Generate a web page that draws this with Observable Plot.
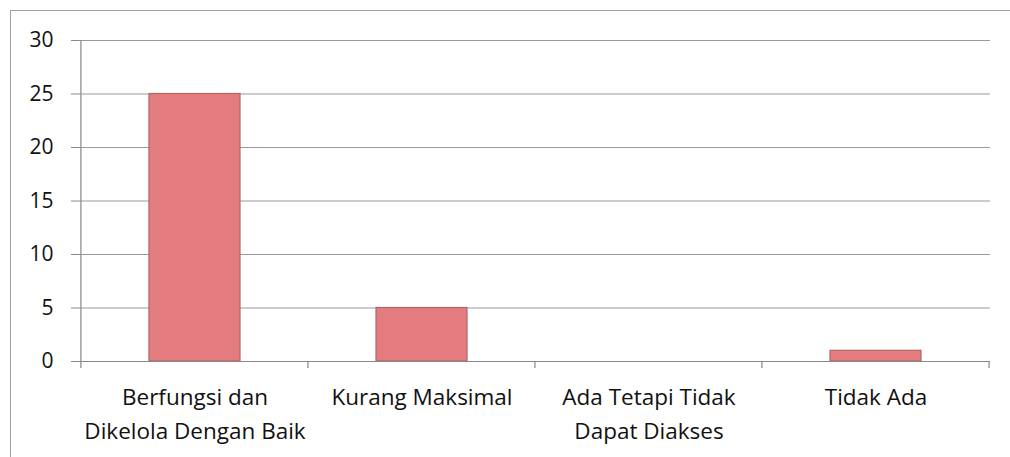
<!DOCTYPE html>
<html><head><meta charset="utf-8">
<script src="https://cdn.jsdelivr.net/npm/d3@7"></script>
<script src="https://cdn.jsdelivr.net/npm/@observablehq/plot@0.6"></script>
<style>
body{margin:0;background:#fff;}
#wrap{position:relative;width:1010px;height:457px;overflow:hidden;}
#frame{position:absolute;left:10px;top:10px;width:1010px;height:460px;border:1.5px solid #a0a0a0;}
#chart{position:absolute;left:0;top:0;}
#chart svg g[aria-label="y-axis tick label"]{font-size:21px;fill:#111;}
#chart svg g[aria-label="x-axis tick label"]{font-size:22.5px;fill:#111;}
</style></head>
<body><div id="wrap"><div id="frame"></div><div id="chart"></div></div>
<script>
const categories = ["Berfungsi dan\nDikelola Dengan Baik", "Kurang Maksimal", "Ada Tetapi Tidak\nDapat Diakses", "Tidak Ada"];
const values = [25, 5, 0, 1];
const yTicks = [0, 5, 10, 15, 20, 25, 30];
const data = categories.map((c, i) => ({category: c, value: values[i]}));

const chart = Plot.plot({
  width: 1010, height: 457,
  marginLeft: 79, marginRight: 20, marginTop: 40, marginBottom: 96,
  style: {fontFamily: "'Open Sans', sans-serif", fontSize: "18px", color: "#111", background: "transparent"},
  x: {domain: categories, paddingInner: 0.6, paddingOuter: 0.3, label: null},
  y: {domain: [0, 30], ticks: yTicks, label: null},
  marks: [
    Plot.gridY(yTicks, {stroke: "#9a9a9a", strokeOpacity: 1, strokeWidth: 1.2}),
    Plot.axisY(yTicks, {tickSize: 8, tickPadding: 18, stroke: "#888", tickFormat: d => d}),
    Plot.axisX({tickSize: 0, tickPadding: 20, lineHeight: 1.5, tickFormat: d => d}),
    Plot.barY(data, {x: "category", y: "value", fill: "#e47c80", stroke: "#b36466", strokeWidth: 1.2}),
    Plot.ruleY([0], {stroke: "#888", strokeWidth: 1.2})
  ]
});
document.getElementById("chart").appendChild(chart);

// y axis line and band boundary tick marks, derived from the scales
const xs = chart.scale("x");
const ys = chart.scale("y");
const gap = xs.step * 0.6 / 2;
const bounds = categories.map(c => xs.apply(c) - gap).concat([xs.apply(categories[categories.length - 1]) + xs.bandwidth + gap]);
const y0 = ys.apply(0);
const y30 = ys.apply(30);
const svg = d3.select(chart);
svg.append("line").attr("x1", bounds[0]).attr("x2", bounds[0]).attr("y1", y30).attr("y2", y0).attr("stroke", "#888").attr("stroke-width", 1.2);
svg.selectAll("line.bt").data(bounds).join("line").attr("class", "bt")
  .attr("x1", d => d).attr("x2", d => d).attr("y1", y0).attr("y2", y0 + 7)
  .attr("stroke", "#888").attr("stroke-width", 1.2);
</script></body></html>
